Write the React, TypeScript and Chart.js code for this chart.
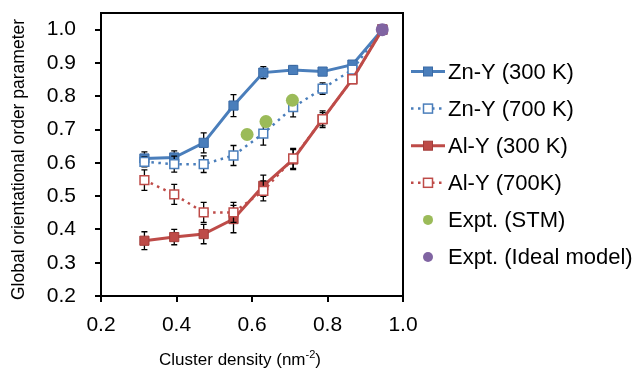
import React, { useEffect, useRef } from "react";
import { Chart, registerables } from "chart.js";

Chart.register(...registerables);

// ---- data ----
const clusterDensity = [0.315, 0.394, 0.472, 0.551, 0.63, 0.709, 0.787, 0.866, 0.945];
const znY300 = [0.613, 0.616, 0.66, 0.772, 0.871, 0.879, 0.874, 0.895, 1.0];
const znY300Err = [0.02, 0.02, 0.03, 0.033, 0.018, 0.012, 0.01, 0.01, 0];
const znY700 = [0.603, 0.596, 0.596, 0.622, 0.688, 0.767, 0.823, 0.88, 1.0];
const znY700Err = [0.015, 0.024, 0.025, 0.03, 0.035, 0.029, 0.017, 0.01, 0];
const alY300 = [0.366, 0.377, 0.386, 0.431, 0.531, 0.61, 0.731, 0.851, 1.0];
const alY300Err = [0.027, 0.023, 0.029, 0.041, 0.032, 0.03, 0.025, 0.01, 0];
const alY700 = [0.548, 0.505, 0.451, 0.451, 0.516, 0.613, 0.731, 0.851, 1.0];
const alY700Err = [0.031, 0.03, 0.03, 0.03, 0.03, 0.03, 0.02, 0.01, 0];
const stmX = [0.587, 0.637, 0.707];
const stmY = [0.685, 0.724, 0.788];
const idealX = [0.945];
const idealY = [1.0];

const xTicks = [0.2, 0.4, 0.6, 0.8, 1.0];
const yTicks = [0.2, 0.3, 0.4, 0.5, 0.6, 0.7, 0.8, 0.9, 1.0];

const seriesLabels = [
  "Zn-Y (300 K)",
  "Zn-Y (700 K)",
  "Al-Y (300 K)",
  "Al-Y (700K)",
  "Expt. (STM)",
  "Expt. (Ideal model)",
];
const xTitle = "Cluster density (nm";
const xTitleSup = "-2";
const yTitle = "Global orientational order parameter";

const FONT = "'Liberation Sans', Arial, Helvetica, sans-serif";
const BLUE = "#4A7EBB";
const RED = "#BE4B48";
const GREEN = "#9BBB59";
const PURPLE = "#8064A2";

const pts = (xs: number[], ys: number[]) => xs.map((x, i) => ({ x, y: ys[i] }));

export default function App() {
  const ref = useRef<HTMLCanvasElement>(null);

  useEffect(() => {
    if (!ref.current) return;

    const datasets: any[] = [
      {
        label: seriesLabels[0],
        data: pts(clusterDensity, znY300),
        errors: znY300Err,
        showLine: true,
        borderColor: BLUE,
        borderWidth: 3,
        pointStyle: "rect",
        pointRadius: 6.5,
        pointBackgroundColor: BLUE,
        pointBorderColor: "#3A6AA5",
        pointBorderWidth: 1,
        order: 5,
      },
      {
        label: seriesLabels[1],
        data: pts(clusterDensity, znY700),
        errors: znY700Err,
        showLine: true,
        borderColor: BLUE,
        borderWidth: 2.5,
        borderDash: [2.5, 4.5],
        pointStyle: "rect",
        pointRadius: 6.2,
        pointBackgroundColor: "#ffffff",
        pointBorderColor: BLUE,
        pointBorderWidth: 1.5,
        order: 4,
      },
      {
        label: seriesLabels[2],
        data: pts(clusterDensity, alY300),
        errors: alY300Err,
        showLine: true,
        borderColor: RED,
        borderWidth: 3,
        pointStyle: "rect",
        pointRadius: 6.5,
        pointBackgroundColor: RED,
        pointBorderColor: "#A33D3A",
        pointBorderWidth: 1,
        order: 3,
      },
      {
        label: seriesLabels[3],
        data: pts(clusterDensity, alY700),
        errors: alY700Err,
        showLine: true,
        borderColor: RED,
        borderWidth: 2.5,
        borderDash: [2.5, 4.5],
        pointStyle: "rect",
        pointRadius: 6.2,
        pointBackgroundColor: "#ffffff",
        pointBorderColor: RED,
        pointBorderWidth: 1.5,
        order: 2,
      },
      {
        label: seriesLabels[4],
        data: pts(stmX, stmY),
        showLine: false,
        pointStyle: "circle",
        pointRadius: 6.5,
        pointBackgroundColor: GREEN,
        pointBorderColor: GREEN,
        pointBorderWidth: 0,
        order: 1,
      },
      {
        label: seriesLabels[5],
        data: pts(idealX, idealY),
        showLine: false,
        pointStyle: "circle",
        pointRadius: 6.5,
        pointBackgroundColor: PURPLE,
        pointBorderColor: PURPLE,
        pointBorderWidth: 0,
        order: 0,
      },
    ];

    const errorBars = {
      id: "errorBars",
      beforeDatasetDraw(chart: any, args: any) {
        const ds = chart.data.datasets[args.index];
        if (!ds.errors) return;
        const { ctx, scales } = chart;
        const xs = scales.x, ys = scales.y;
        ctx.save();
        ctx.strokeStyle = "#000";
        ctx.lineWidth = 1.3;
        ds.data.forEach((p: any, i: number) => {
          const e = ds.errors[i];
          if (!e) return;
          const px = xs.getPixelForValue(p.x);
          const y1 = ys.getPixelForValue(p.y + e);
          const y2 = ys.getPixelForValue(p.y - e);
          ctx.beginPath();
          ctx.moveTo(px, y1);
          ctx.lineTo(px, y2);
          ctx.moveTo(px - 3, y1);
          ctx.lineTo(px + 3, y1);
          ctx.moveTo(px - 3, y2);
          ctx.lineTo(px + 3, y2);
          ctx.stroke();
        });
        ctx.restore();
      },
    };

    const frame = {
      id: "frame",
      afterDraw(chart: any) {
        const { ctx, chartArea: a } = chart;
        ctx.save();
        ctx.strokeStyle = "#000";
        ctx.lineWidth = 2;
        ctx.strokeRect(a.left, a.top, a.right - a.left, a.bottom - a.top);
        ctx.restore();
      },
    };

    const axisTitles = {
      id: "axisTitles",
      afterDraw(chart: any) {
        const { ctx, chartArea: a } = chart;
        ctx.save();
        ctx.fillStyle = "#000";
        ctx.textBaseline = "alphabetic";
        ctx.textAlign = "left";
        const mainFont = `17px ${FONT}`;
        const supFont = `11px ${FONT}`;
        ctx.font = mainFont;
        const w1 = ctx.measureText(xTitle).width;
        const w3 = ctx.measureText(")").width;
        ctx.font = supFont;
        const w2 = ctx.measureText(xTitleSup).width;
        const total = w1 + w2 + w3;
        const cx = a.left + 139;
        let x = cx - total / 2;
        const base = 365;
        ctx.font = mainFont;
        ctx.fillText(xTitle, x, base);
        x += w1;
        ctx.font = supFont;
        ctx.fillText(xTitleSup, x, base - 7);
        x += w2;
        ctx.font = mainFont;
        ctx.fillText(")", x, base);

        // y title (rotated)
        ctx.save();
        ctx.translate(a.left - 82, (a.top + a.bottom) / 2 + 5);
        ctx.rotate(-Math.PI / 2);
        ctx.font = `17.5px ${FONT}`;
        ctx.textAlign = "center";
        ctx.textBaseline = "middle";
        ctx.fillText(yTitle, 0, 0);
        ctx.restore();
        ctx.restore();
      },
    };

    const legendPlugin = {
      id: "customLegend",
      afterDraw(chart: any) {
        const { ctx, chartArea: a } = chart;
        ctx.save();
        const x0 = a.right + 8;
        const x1 = a.right + 42;
        const mx = (x0 + x1) / 2;
        const tx = a.right + 45;
        chart.data.datasets.forEach((ds: any, i: number) => {
          const y = a.top + 58.5 + i * 37.1;
          if (ds.showLine) {
            ctx.save();
            ctx.strokeStyle = ds.borderColor;
            ctx.lineWidth = ds.borderWidth;
            ctx.setLineDash(ds.borderDash || []);
            ctx.beginPath();
            ctx.moveTo(x0, y);
            ctx.lineTo(x1, y);
            ctx.stroke();
            ctx.restore();
          }
          ctx.save();
          ctx.fillStyle = ds.pointBackgroundColor;
          ctx.strokeStyle = ds.pointBorderColor;
          ctx.lineWidth = ds.pointBorderWidth || 0;
          if (ds.pointStyle === "rect") {
            const s = 9;
            ctx.fillRect(mx - s / 2, y - s / 2, s, s);
            if (ds.pointBorderWidth) ctx.strokeRect(mx - s / 2, y - s / 2, s, s);
          } else {
            ctx.beginPath();
            ctx.arc(mx, y, 5, 0, Math.PI * 2);
            ctx.fill();
          }
          ctx.restore();
          ctx.fillStyle = "#000";
          ctx.font = `22px ${FONT}`;
          ctx.textBaseline = "middle";
          ctx.textAlign = "left";
          ctx.fillText(ds.label, tx, y + 1);
        });
        ctx.restore();
      },
    };

    const chart = new Chart(ref.current, {
      type: "scatter",
      data: { datasets },
      options: {
        animation: false,
        responsive: false,
        maintainAspectRatio: false,
        layout: { padding: { left: 0, right: 240, top: 13, bottom: 0 } },
        plugins: {
          legend: { display: false },
          tooltip: { enabled: false },
        },
        scales: {
          x: {
            type: "linear",
            min: 0.2,
            max: 1.0,
            afterBuildTicks: (s: any) => {
              s.ticks = xTicks.map((v) => ({ value: v }));
              s.min = 0.2;
              s.max = 1.0;
            },
            afterFit: (s: any) => {
              s.height = 72;
              s.paddingLeft = 0;
              s.paddingRight = 0;
            },
            ticks: {
              color: "#000",
              font: { family: FONT, size: 21 },
              padding: 11,
              maxRotation: 0,
              callback: (v: any) => Number(v).toFixed(1),
            },
            grid: {
              display: true,
              drawOnChartArea: false,
              drawTicks: true,
              tickLength: 6,
              color: "#000",
              lineWidth: 2,
            },
            border: { display: false },
          },
          y: {
            type: "linear",
            min: 0.2,
            max: 1.05,
            afterBuildTicks: (s: any) => {
              s.ticks = yTicks.map((v) => ({ value: v }));
              s.min = 0.2;
              s.max = 1.05;
            },
            afterFit: (s: any) => {
              s.width = 101;
              s.paddingTop = 0;
              s.paddingBottom = 0;
            },
            ticks: {
              color: "#000",
              font: { family: FONT, size: 21 },
              padding: 19,
              callback: (v: any) => Number(v).toFixed(1),
            },
            grid: {
              display: true,
              drawOnChartArea: false,
              drawTicks: true,
              tickLength: 6,
              color: "#000",
              lineWidth: 2,
            },
            border: { display: false },
          },
        },
      },
      plugins: [errorBars, frame, axisTitles, legendPlugin],
    } as any);

    return () => chart.destroy();
  }, []);

  return (
    <div style={{ position: "fixed", left: 0, top: 0, width: 643, height: 368, background: "#fff" }}>
      <canvas ref={ref} width={643} height={368} style={{ display: "block" }} />
    </div>
  );
}
